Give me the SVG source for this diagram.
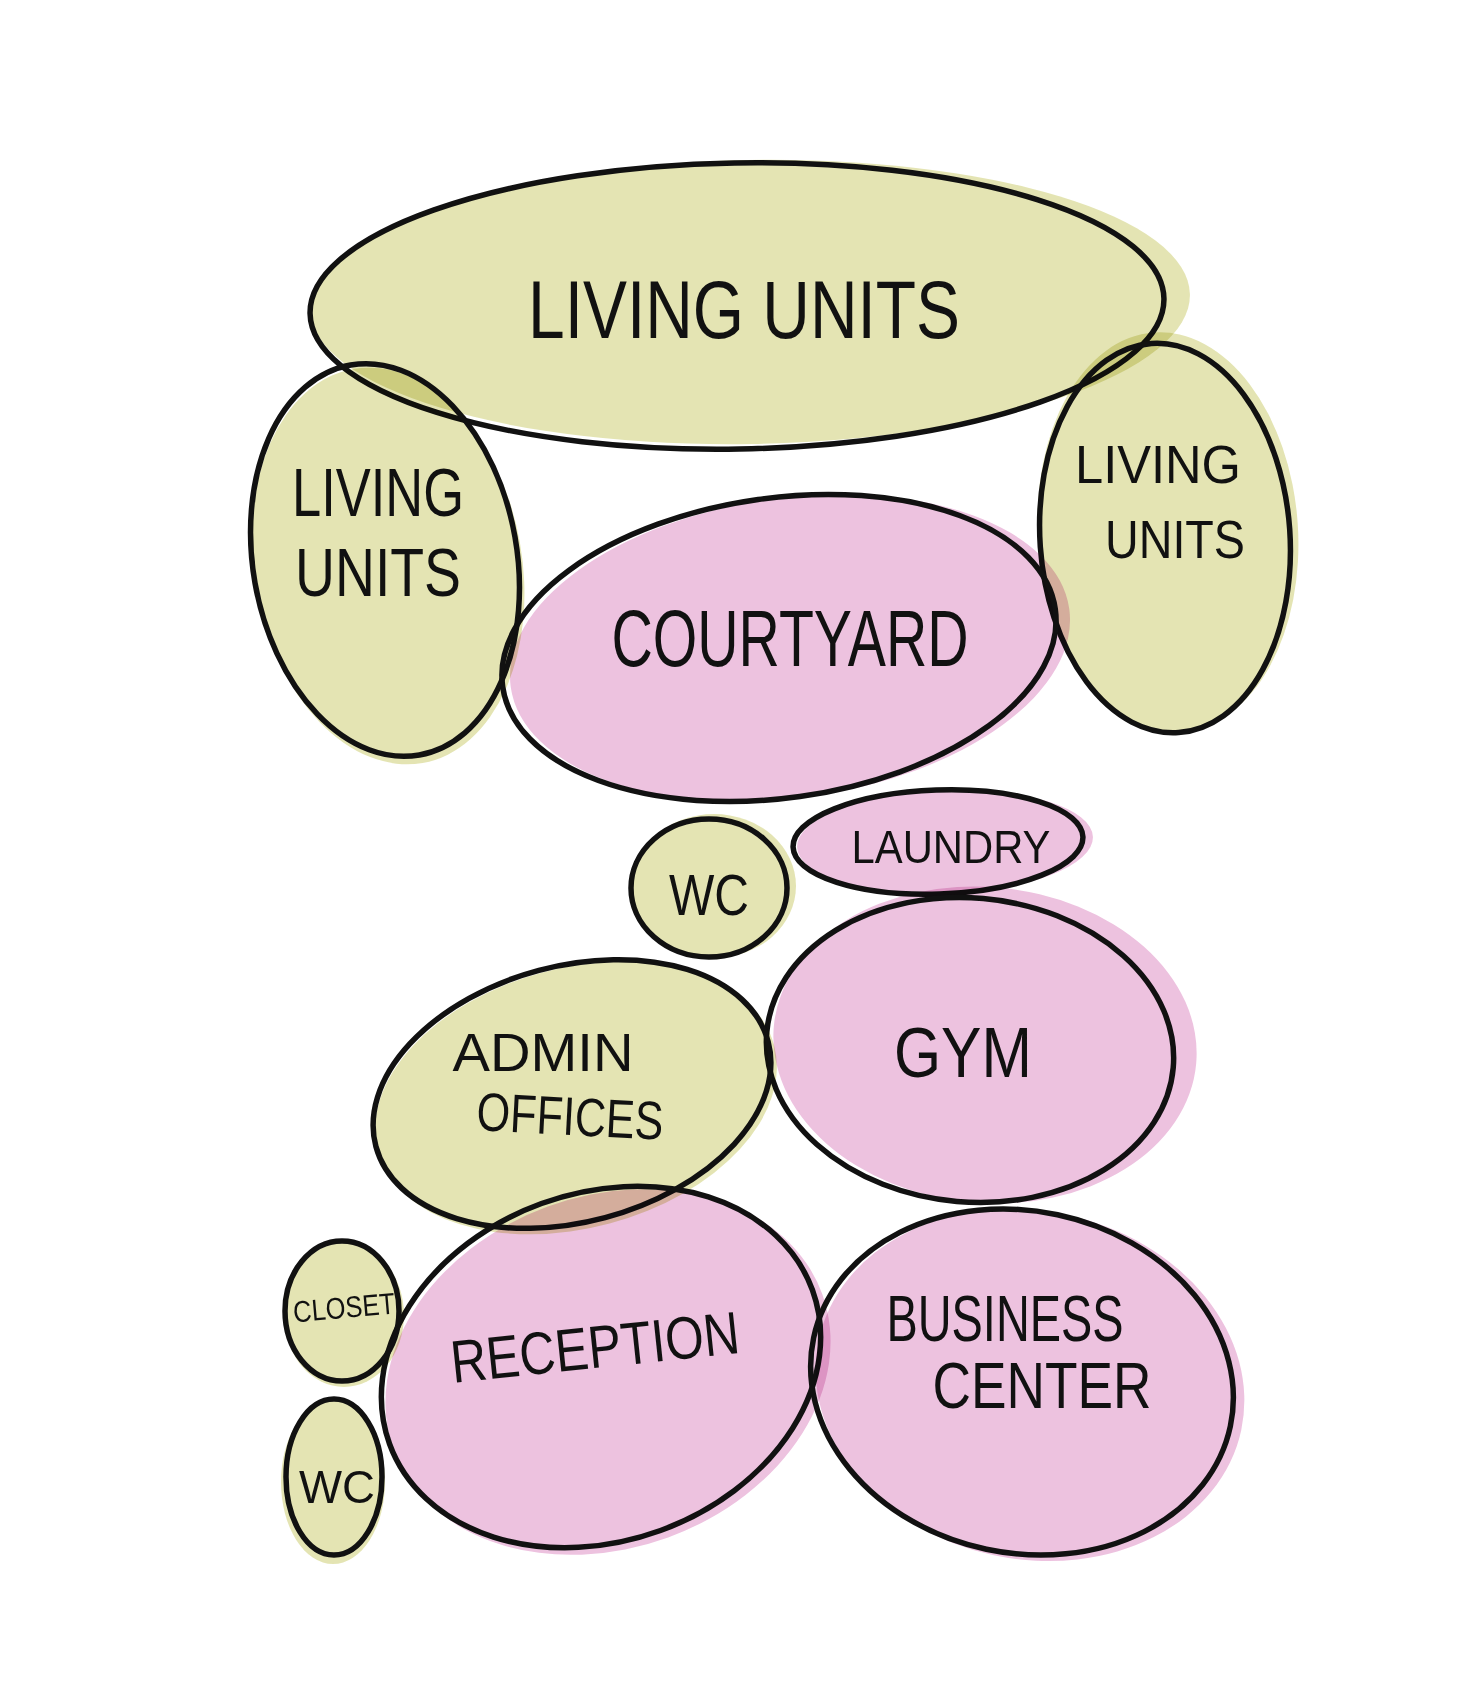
<svg xmlns="http://www.w3.org/2000/svg" width="1471" height="1685" viewBox="0 0 1471 1685">
<style>
.wash{mix-blend-mode:multiply;opacity:0.85}
.g{fill:#dfe0a6}
.p{fill:#eab7da}
.ol{fill:none;stroke:#111;stroke-width:5.5}
text{font-family:"Liberation Sans","DejaVu Sans",sans-serif;fill:#111;text-anchor:middle}
</style>
<rect width="1471" height="1685" fill="#ffffff"/>
<g id="connectors"/>
<g id="living-units-top">
<ellipse class="wash g" cx="750" cy="302" rx="440" ry="142" transform="rotate(-1 750 302)"/>
<ellipse class="ol" cx="737" cy="306" rx="427" ry="143" transform="rotate(-1 737 306)"/>
<text x="744" y="338" font-size="82" textLength="432" lengthAdjust="spacingAndGlyphs">LIVING UNITS</text>
</g>
<g id="living-units-left">
<ellipse class="wash g" cx="388" cy="566" rx="134" ry="200" transform="rotate(-10 388 566)"/>
<ellipse class="ol" cx="385" cy="560" rx="132" ry="198" transform="rotate(-10 385 560)"/>
<text x="378" y="516" font-size="68" textLength="172" lengthAdjust="spacingAndGlyphs">LIVING</text>
<text x="378" y="596" font-size="68" textLength="166" lengthAdjust="spacingAndGlyphs">UNITS</text>
</g>
<g id="living-units-right">
<ellipse class="wash g" cx="1168" cy="532" rx="130" ry="200" transform="rotate(-4 1168 532)"/>
<ellipse class="ol" cx="1165" cy="538" rx="125" ry="195" transform="rotate(-4 1165 538)"/>
<text x="1158" y="483" font-size="54" textLength="166" lengthAdjust="spacingAndGlyphs">LIVING</text>
<text x="1175" y="558" font-size="54" textLength="140" lengthAdjust="spacingAndGlyphs">UNITS</text>
</g>
<g id="courtyard">
<ellipse class="wash p" cx="790" cy="648" rx="282" ry="150" transform="rotate(-8 790 648)"/>
<ellipse class="ol" cx="779" cy="648" rx="279" ry="150" transform="rotate(-8 779 648)"/>
<text x="790" y="666" font-size="80" textLength="357" lengthAdjust="spacingAndGlyphs">COURTYARD</text>
</g>
<g id="wc-top">
<ellipse class="wash g" cx="714" cy="886" rx="82" ry="72"/>
<ellipse class="ol" cx="709" cy="888" rx="78" ry="69"/>
<text x="709" y="915" font-size="58" textLength="80" lengthAdjust="spacingAndGlyphs">WC</text>
</g>
<g id="laundry">
<ellipse class="wash p" cx="945" cy="842" rx="148" ry="52" transform="rotate(-2 945 842)"/>
<ellipse class="ol" cx="938" cy="842" rx="145" ry="52" transform="rotate(-2 938 842)"/>
<text x="951" y="863" font-size="46" textLength="199" lengthAdjust="spacingAndGlyphs">LAUNDRY</text>
</g>
<g id="gym">
<ellipse class="wash p" cx="985" cy="1045" rx="212" ry="158" transform="rotate(5 985 1045)"/>
<ellipse class="ol" cx="970" cy="1050" rx="204" ry="152" transform="rotate(5 970 1050)"/>
<text x="963" y="1077" font-size="70" textLength="138" lengthAdjust="spacingAndGlyphs">GYM</text>
</g>
<g id="admin-offices">
<ellipse class="wash g" cx="576" cy="1098" rx="205" ry="130" transform="rotate(-15 576 1098)"/>
<ellipse class="ol" cx="572" cy="1094" rx="203" ry="128" transform="rotate(-15 572 1094)"/>
<text x="543" y="1071" font-size="54" textLength="181" lengthAdjust="spacingAndGlyphs">ADMIN</text>
<text x="570" y="1135" font-size="54" textLength="187" lengthAdjust="spacingAndGlyphs" transform="rotate(3 570 1120)">OFFICES</text>
</g>
<g id="reception">
<ellipse class="wash p" cx="608" cy="1372" rx="228" ry="176" transform="rotate(-20 608 1372)"/>
<ellipse class="ol" cx="601" cy="1367" rx="225" ry="174" transform="rotate(-20 601 1367)"/>
<text x="595" y="1368" font-size="60" textLength="290" lengthAdjust="spacingAndGlyphs" transform="rotate(-6 595 1348)">RECEPTION</text>
</g>
<g id="business-center">
<ellipse class="wash p" cx="1030" cy="1385" rx="216" ry="174" transform="rotate(12 1030 1385)"/>
<ellipse class="ol" cx="1022" cy="1382" rx="213" ry="171" transform="rotate(12 1022 1382)"/>
<text x="1005" y="1341" font-size="64" textLength="237" lengthAdjust="spacingAndGlyphs">BUSINESS</text>
<text x="1042" y="1408" font-size="64" textLength="219" lengthAdjust="spacingAndGlyphs">CENTER</text>
</g>
<g id="closet">
<ellipse class="wash g" cx="344" cy="1315" rx="60" ry="72"/>
<ellipse class="ol" cx="342" cy="1311" rx="57" ry="70"/>
<text x="344" y="1318" font-size="30" textLength="102" lengthAdjust="spacingAndGlyphs" transform="rotate(-5 344 1308)">CLOSET</text>
</g>
<g id="wc-bottom">
<ellipse class="wash g" cx="333" cy="1482" rx="52" ry="82"/>
<ellipse class="ol" cx="334" cy="1477" rx="48" ry="78"/>
<text x="337" y="1503" font-size="46" textLength="76" lengthAdjust="spacingAndGlyphs">WC</text>
</g>
</svg>
